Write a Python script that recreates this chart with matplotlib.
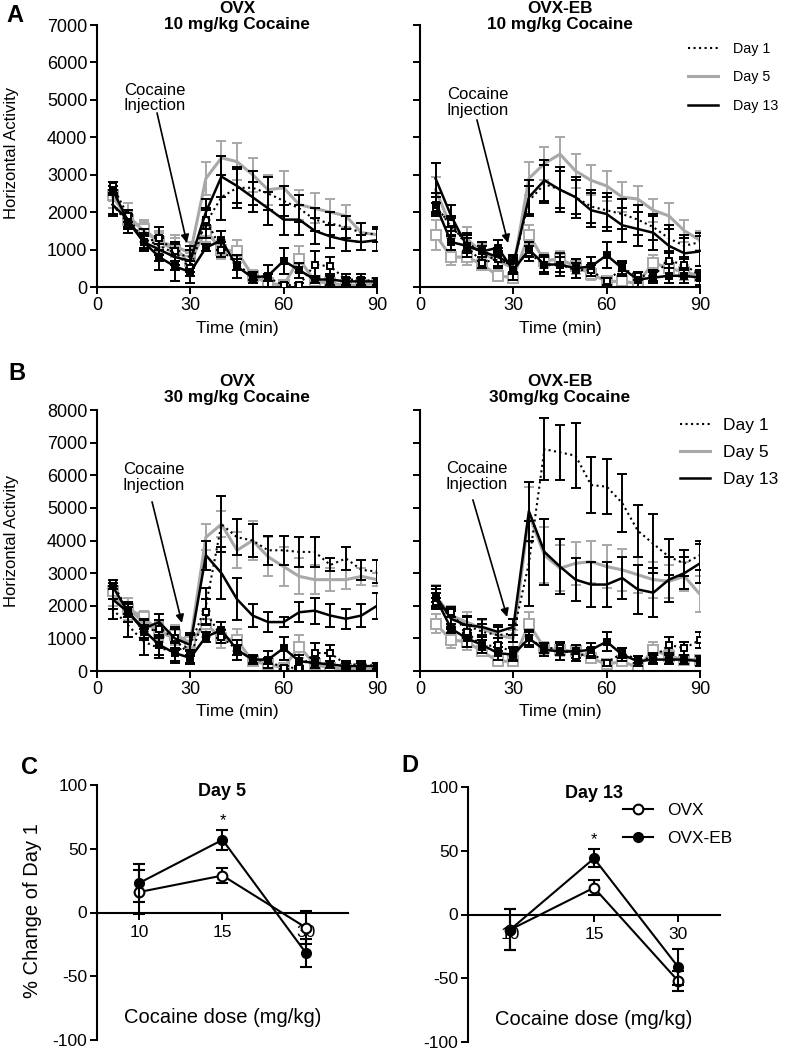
import matplotlib
matplotlib.use("Agg")
import matplotlib.pyplot as plt
from matplotlib.lines import Line2D

plt.rcParams['font.family'] = ['Liberation Sans', 'DejaVu Sans']
plt.rcParams['axes.unicode_minus'] = False

# time points (min)
time = [5, 10, 15, 20, 25, 30, 35, 40, 45, 50, 55, 60, 65, 70, 75, 80, 85, 90]

# ---- A left: OVX, 10 mg/kg ----
a1_coc_d1 = [2200, 1700, 1300, 1100, 900, 800, 1700, 2400, 2650, 2650, 2500, 2300, 2100, 1800, 1700, 1600, 1450, 1400]
a1_coc_d5 = [2400, 1900, 1500, 1200, 1100, 900, 2900, 3450, 3350, 3000, 2600, 2650, 2200, 2100, 2000, 1900, 1450, 1400]
a1_coc_d13 = [2200, 1800, 1200, 1000, 800, 700, 2000, 2950, 2700, 2400, 2100, 1800, 1800, 1500, 1350, 1250, 1200, 1250]
a1_sal_d1 = [2700, 1900, 1200, 1300, 950, 500, 1800, 1000, 600, 300, 250, 50, 50, 600, 550, 200, 200, 150]
a1_sal_d5 = [2450, 1800, 1550, 1200, 1000, 700, 1500, 1000, 950, 300, 100, 50, 750, 150, 100, 50, 50, 100]
a1_sal_d13 = [2600, 1750, 1200, 800, 550, 400, 1050, 1250, 550, 250, 300, 700, 450, 200, 200, 150, 150, 150]
a1_coc_d1_err = [250, 250, 250, 250, 300, 300, 400, 600, 550, 450, 450, 400, 350, 300, 300, 300, 250, 200]
a1_coc_d5_err = [300, 350, 300, 300, 300, 300, 450, 450, 500, 450, 400, 450, 400, 400, 350, 300, 250, 200]
a1_coc_d13_err = [300, 250, 250, 300, 350, 300, 350, 550, 450, 400, 450, 400, 400, 350, 300, 300, 200, 300]
a1_sal_d1_err = [100, 150, 150, 300, 250, 200, 250, 200, 150, 100, 100, 50, 50, 350, 250, 150, 150, 100]
a1_sal_d5_err = [150, 200, 200, 250, 300, 200, 300, 250, 300, 150, 100, 50, 350, 100, 100, 100, 50, 50]
a1_sal_d13_err = [100, 150, 200, 350, 400, 300, 100, 250, 300, 150, 300, 350, 200, 100, 150, 100, 100, 100]

# ---- A right: OVX-EB, 10 mg/kg ----
a2_coc_d1 = [2200, 1600, 1200, 900, 700, 600, 2300, 2750, 2600, 2400, 2150, 2050, 1950, 1800, 1600, 1300, 1100, 1200]
a2_coc_d5 = [2600, 1600, 1300, 900, 700, 500, 2900, 3300, 3550, 3100, 2850, 2700, 2400, 2350, 2050, 1900, 1500, 1250]
a2_coc_d13 = [2900, 1900, 1100, 950, 800, 600, 2400, 2850, 2600, 2400, 2050, 1950, 1650, 1550, 1450, 1100, 900, 950]
a2_sal_d1 = [2100, 1700, 1100, 650, 750, 550, 900, 600, 600, 450, 450, 150, 500, 300, 300, 700, 600, 300]
a2_sal_d5 = [1400, 800, 800, 600, 300, 250, 1400, 700, 750, 550, 350, 150, 150, 100, 650, 500, 400, 300]
a2_sal_d13 = [2200, 1200, 1100, 950, 1050, 450, 1000, 600, 600, 500, 550, 850, 500, 200, 250, 300, 300, 250]
a2_coc_d1_err = [300, 250, 250, 200, 200, 200, 400, 500, 500, 450, 450, 450, 400, 400, 350, 350, 300, 250]
a2_coc_d5_err = [350, 300, 300, 250, 200, 200, 450, 450, 450, 450, 400, 400, 400, 350, 300, 350, 300, 250]
a2_coc_d13_err = [400, 300, 300, 250, 250, 250, 450, 550, 600, 550, 450, 450, 450, 450, 450, 450, 400, 400]
a2_sal_d1_err = [150, 200, 200, 150, 200, 200, 200, 200, 200, 200, 150, 100, 150, 100, 150, 200, 150, 100]
a2_sal_d5_err = [400, 200, 200, 150, 150, 150, 250, 200, 200, 200, 150, 100, 100, 100, 200, 200, 200, 100]
a2_sal_d13_err = [200, 200, 300, 250, 200, 250, 200, 250, 300, 250, 250, 350, 200, 200, 150, 200, 200, 200]

# ---- B left: OVX, 30 mg/kg ----
b1_coc_d1 = [1900, 1400, 900, 700, 600, 800, 2000, 4500, 4100, 4000, 3700, 3700, 3650, 3650, 3250, 3450, 3100, 3050]
b1_coc_d5 = [2300, 1900, 1500, 1200, 1000, 900, 4100, 4500, 3700, 4000, 3500, 3200, 2900, 2800, 2800, 2800, 2900, 2800]
b1_coc_d13 = [2200, 1800, 1300, 1500, 1000, 800, 3550, 3000, 2200, 1700, 1500, 1500, 1800, 1850, 1700, 1600, 1700, 2000]
b1_sal_d1 = [2700, 1850, 1200, 1300, 1000, 450, 1800, 1050, 650, 350, 300, 100, 100, 550, 550, 200, 200, 150]
b1_sal_d5 = [2450, 1900, 1650, 1200, 1100, 900, 1450, 1000, 950, 300, 200, 100, 750, 200, 100, 50, 50, 50]
b1_sal_d13 = [2600, 1800, 1250, 800, 550, 400, 1050, 1250, 650, 350, 350, 700, 300, 250, 200, 150, 150, 150]
b1_coc_d1_err = [300, 350, 400, 300, 300, 300, 550, 850, 550, 500, 450, 450, 450, 450, 200, 350, 300, 350]
b1_coc_d5_err = [300, 350, 300, 300, 300, 250, 400, 400, 550, 600, 600, 600, 550, 450, 350, 300, 250, 200]
b1_coc_d13_err = [300, 300, 300, 250, 350, 350, 450, 800, 650, 350, 300, 150, 300, 400, 350, 300, 350, 400]
b1_sal_d1_err = [100, 200, 200, 250, 300, 200, 400, 200, 150, 100, 100, 50, 50, 300, 250, 100, 100, 100]
b1_sal_d5_err = [150, 200, 200, 250, 300, 200, 400, 300, 350, 150, 100, 50, 350, 100, 100, 50, 50, 50]
b1_sal_d13_err = [100, 150, 300, 300, 300, 200, 150, 250, 300, 150, 250, 350, 200, 150, 100, 100, 100, 100]

# ---- B right: OVX-EB, 30 mg/kg ----
b2_coc_d1 = [2200, 1600, 1400, 1200, 1100, 1150, 3300, 6800, 6700, 6600, 5700, 5650, 5150, 4300, 3900, 3500, 3300, 3550]
b2_coc_d5 = [2300, 1700, 1500, 1300, 1100, 1000, 4800, 3550, 3150, 3300, 3350, 3200, 3100, 2950, 2800, 2750, 2900, 2350]
b2_coc_d13 = [2300, 1600, 1400, 1350, 1200, 1350, 4900, 3650, 3200, 2800, 2650, 2650, 2850, 2500, 2400, 2800, 3000, 3300]
b2_sal_d1 = [2100, 1800, 1200, 750, 800, 550, 1000, 700, 700, 450, 550, 250, 550, 350, 400, 800, 700, 950]
b2_sal_d5 = [1450, 950, 900, 600, 300, 300, 1450, 700, 650, 600, 400, 200, 300, 100, 650, 450, 350, 350]
b2_sal_d13 = [2250, 1300, 1000, 800, 550, 500, 1000, 650, 600, 600, 650, 900, 500, 300, 350, 350, 350, 300]
b2_coc_d1_err = [300, 300, 300, 250, 250, 250, 1300, 950, 850, 1000, 850, 850, 900, 800, 900, 550, 400, 450]
b2_coc_d5_err = [350, 300, 300, 250, 250, 250, 850, 850, 700, 650, 650, 650, 650, 550, 550, 500, 450, 550]
b2_coc_d13_err = [300, 250, 250, 250, 200, 250, 900, 1000, 850, 650, 700, 700, 650, 750, 750, 700, 500, 600]
b2_sal_d1_err = [150, 150, 200, 200, 200, 200, 200, 150, 200, 150, 150, 100, 150, 100, 150, 250, 200, 250]
b2_sal_d5_err = [300, 250, 250, 150, 100, 100, 350, 200, 200, 200, 150, 100, 100, 100, 250, 200, 150, 150]
b2_sal_d13_err = [150, 150, 250, 250, 200, 200, 250, 200, 250, 200, 200, 300, 200, 150, 150, 150, 150, 150]

# ---- C / D: % change of day 1 ----
doses = ['10', '15', '30']
c_ovx = [16, 29, -12]
c_ovx_err = [17, 6, 13]
c_eb = [23, 57, -32]
c_eb_err = [15, 8, 11]
d_ovx = [-12, 21, -52]
d_ovx_err = [16, 6, 8]
d_eb = [-12, 44, -41]
d_eb_err = [16, 7, 14]

GRAY = '#a8a8a8'
day_labels = ['Day 1', 'Day 5', 'Day 13']

W, H = 789, 1050
fig = plt.figure(figsize=(W / 100, H / 100), dpi=100)


def px_axes(x0, y0, x1, y1):
    # pixel box (top-left origin) -> axes
    return fig.add_axes([x0 / W, 1 - y1 / H, (x1 - x0) / W, (y1 - y0) / H])


def style_spines(ax):
    for s in ['top', 'right']:
        ax.spines[s].set_visible(False)
    for s in ['left', 'bottom']:
        ax.spines[s].set_linewidth(1.5)
    ax.tick_params(direction='out', length=5, width=1.4, labelsize=13, pad=2)


def time_panel(ax, coc, coc_err, sal, sal_err, ymax, title, title_y, text_xy, arrow_from, arrow_to):
    line_st = [dict(color='black', ls=':', lw=1.5),
               dict(color=GRAY, ls='-', lw=2.2),
               dict(color='black', ls='-', lw=1.8)]
    mark_st = [dict(mfc='white', mec='black'),
               dict(mfc='white', mec=GRAY),
               dict(mfc='black', mec='black')]
    for i in [1, 0, 2]:
        ecol = line_st[i]['color']
        z = 2 if i == 1 else 3
        ax.errorbar(time, sal[i], yerr=sal_err[i], marker='s', ms=5 if i != 1 else 6.5,
                    mew=1.4, capsize=3.5, capthick=1.4, elinewidth=1.4, ecolor=ecol,
                    zorder=z, **line_st[i], **mark_st[i])
        ax.errorbar(time, coc[i], yerr=coc_err[i], capsize=3.5, capthick=1.4,
                    elinewidth=1.4, ecolor=ecol, zorder=z, **line_st[i])
    ax.set_xlim(0, 90)
    ax.set_ylim(0, ymax)
    ax.set_xticks([0, 30, 60, 90])
    ax.set_yticks(range(0, ymax + 1, 1000))
    style_spines(ax)
    ax.text(0.5, title_y, title, transform=ax.transAxes, ha='center', va='center',
            fontsize=12.3, fontweight='bold', linespacing=1.05)
    ax.text(0.5, -0.157, 'Time (min)', transform=ax.transAxes, ha='center', va='center',
            fontsize=12.5)
    ax.text(text_xy[0], text_xy[1], 'Cocaine\nInjection', ha='center', va='center',
            fontsize=12, linespacing=1.05)
    ax.annotate('', xy=arrow_to, xytext=arrow_from,
                arrowprops=dict(arrowstyle='-|>', color='black', lw=1.2,
                                mutation_scale=12, shrinkA=0, shrinkB=0))


ax_a1 = px_axes(97, 25, 377, 287)
time_panel(ax_a1, [a1_coc_d1, a1_coc_d5, a1_coc_d13], [a1_coc_d1_err, a1_coc_d5_err, a1_coc_d13_err],
           [a1_sal_d1, a1_sal_d5, a1_sal_d13], [a1_sal_d1_err, a1_sal_d5_err, a1_sal_d13_err],
           7000, 'OVX\n10 mg/kg Cocaine', 1.032, (18.6, 5050), (19.3, 4650), (28.9, 1176))

ax_a2 = px_axes(420, 25, 700, 287)
time_panel(ax_a2, [a2_coc_d1, a2_coc_d5, a2_coc_d13], [a2_coc_d1_err, a2_coc_d5_err, a2_coc_d13_err],
           [a2_sal_d1, a2_sal_d5, a2_sal_d13], [a2_sal_d1_err, a2_sal_d5_err, a2_sal_d13_err],
           7000, 'OVX-EB\n10 mg/kg Cocaine', 1.032, (18.6, 4930), (18.3, 4465), (28.3, 1176))
ax_a2.set_yticklabels([])

ax_b1 = px_axes(97, 410, 377, 671)
time_panel(ax_b1, [b1_coc_d1, b1_coc_d5, b1_coc_d13], [b1_coc_d1_err, b1_coc_d5_err, b1_coc_d13_err],
           [b1_sal_d1, b1_sal_d5, b1_sal_d13], [b1_sal_d1_err, b1_sal_d5_err, b1_sal_d13_err],
           8000, 'OVX\n30 mg/kg Cocaine', 1.078, (18.3, 5935), (17.7, 5184), (27.3, 1472))

ax_b2 = px_axes(420, 410, 700, 671)
time_panel(ax_b2, [b2_coc_d1, b2_coc_d5, b2_coc_d13], [b2_coc_d1_err, b2_coc_d5_err, b2_coc_d13_err],
           [b2_sal_d1, b2_sal_d5, b2_sal_d13], [b2_sal_d1_err, b2_sal_d5_err, b2_sal_d13_err],
           8000, 'OVX-EB\n30mg/kg Cocaine', 1.078, (18.3, 5966), (17.0, 5245), (28.0, 1656))
ax_b2.set_yticklabels([])

fig.text(12 / W, 1 - 153 / H, 'Horizontal Activity', rotation=90, ha='center', va='center', fontsize=12)
fig.text(12 / W, 1 - 541 / H, 'Horizontal Activity', rotation=90, ha='center', va='center', fontsize=12)

# legends for the time courses
day_handles = [Line2D([], [], color='black', ls=':', lw=1.5),
               Line2D([], [], color=GRAY, ls='-', lw=2.2),
               Line2D([], [], color='black', ls='-', lw=1.8)]
fig.legend(day_handles, day_labels, loc='upper left', bbox_to_anchor=(688 / W, 1 - 42 / H),
           frameon=False, fontsize=10.3, handlelength=2.1, handletextpad=1.05,
           labelspacing=1.0, borderpad=0, borderaxespad=0)
fig.legend(day_handles, day_labels, loc='upper left', bbox_to_anchor=(680 / W, 1 - 418 / H),
           frameon=False, fontsize=12.5, handlelength=1.72, handletextpad=0.75,
           labelspacing=0.67, borderpad=0, borderaxespad=0)


def dose_panel(ax, ovx, ovx_err, eb, eb_err, title, star_y):
    x = [0, 1, 2]
    ax.errorbar(x, ovx, yerr=ovx_err, color='black', lw=1.5, marker='o', ms=7,
                mfc='white', mec='black', mew=1.5, capsize=4.5, capthick=1.5, zorder=3)
    ax.errorbar(x, eb, yerr=eb_err, color='black', lw=1.5, marker='o', ms=7,
                mfc='black', mec='black', capsize=4.5, capthick=1.5, zorder=4)
    ax.set_xlim(-0.5, 2.5)
    ax.set_ylim(-100, 100)
    ax.set_xticks(x, doses)
    ax.set_yticks([-100, -50, 0, 50, 100])
    style_spines(ax)
    ax.spines['bottom'].set_position(('data', 0))
    ax.tick_params(labelsize=12.5)
    ax.tick_params(axis='x', pad=4)
    ax.text(0.5, 0.975, title, transform=ax.transAxes, ha='center', va='center',
            fontsize=13, fontweight='bold')
    ax.text(1, star_y, '*', ha='center', va='center', fontsize=12)
    ax.text(0.5, 0.09, 'Cocaine dose (mg/kg)', transform=ax.transAxes, ha='center',
            va='center', fontsize=14.5)


ax_c = px_axes(97, 785, 348, 1040)
dose_panel(ax_c, c_ovx, c_ovx_err, c_eb, c_eb_err, 'Day 5', 72)
fig.text(33 / W, 1 - 911 / H, '% Change of Day 1', rotation=90, ha='center', va='center', fontsize=14.5)

ax_d = px_axes(468, 787, 720, 1042)
dose_panel(ax_d, d_ovx, d_ovx_err, d_eb, d_eb_err, 'Day 13', 59)
grp_handles = [Line2D([], [], color='black', lw=1.5, marker='o', ms=7, mfc='white', mew=1.5),
               Line2D([], [], color='black', lw=1.5, marker='o', ms=7, mfc='black')]
fig.legend(grp_handles, ['OVX', 'OVX-EB'], loc='upper left', bbox_to_anchor=(623 / W, 1 - 803 / H),
           frameon=False, fontsize=12.4, handlelength=1.74, handletextpad=0.81,
           labelspacing=0.74, borderpad=0, borderaxespad=0)

# panel letters
for lab, (px, py) in {'A': (15, 15), 'B': (17, 373), 'C': (30, 767), 'D': (410, 765)}.items():
    fig.text(px / W, 1 - py / H, lab, ha='center', va='center', fontsize=17, fontweight='bold')

fig.savefig('out.png', dpi=100)
